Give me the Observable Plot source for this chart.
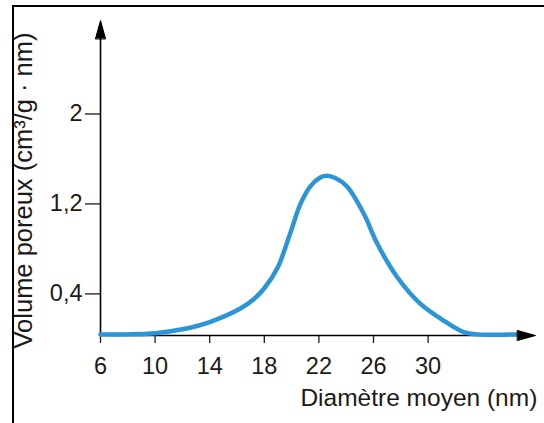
<!DOCTYPE html>
<html><head><meta charset="utf-8">
<script src="https://cdn.jsdelivr.net/npm/d3@7"></script>
<script src="https://cdn.jsdelivr.net/npm/@observablehq/plot@0.6"></script>
<style>
body{margin:0;background:#fff}
#wrap{position:relative;width:544px;height:423px;overflow:hidden}
#wrap svg{position:absolute;left:0;top:0}
#frame{position:absolute;left:12px;top:5px;right:-10px;bottom:-10px;border-top:2.5px solid #000;border-left:2.5px solid #000}
</style>
</head><body><div id="wrap"></div>
<script>
// Curve data (diamètre moyen en nm, volume poreux en cm³/g·nm)
const diameter = [6, 8, 10, 12, 14, 16.25, 17.2, 18, 19, 19.9, 20.65, 21.4, 22.1, 22.6, 23.2, 24.06, 25.3, 26.26, 27.73, 29.4, 31.1, 32.6, 33.6, 36.5];
const volume   = [0.04, 0.04, 0.05, 0.085, 0.15, 0.27, 0.35, 0.45, 0.64, 0.94, 1.2, 1.36, 1.435, 1.45, 1.43, 1.355, 1.11, 0.85, 0.55, 0.315, 0.165, 0.06, 0.04, 0.04];
const xTicks = [6, 10, 14, 18, 22, 26, 30];
const yTicks = [0.4, 1.2, 2];
const xLabel = "Diamètre moyen (nm)";
const yLabel = "Volume poreux (cm³/g · nm)";
const xMin = 6, xMax = 38, yBase = 0.03, yTop = 3;
const xArrowEnd = 37.87, yArrowEnd = 2.83;

const curve = diameter.map((d, i) => ({d, v: volume[i]}));
const arrowHead = {draw(ctx, l, r) { ctx.moveTo(-r, 0); ctx.lineTo(0, -l); ctx.lineTo(r, 0); ctx.closePath(); }};

const chart = Plot.plot({
  width: 544, height: 423,
  marginLeft: 100, marginRight: 544 - 100 - (xMax - xMin) * 13.65, marginTop: 1, marginBottom: 88,
  x: {domain: [xMin, xMax], label: null},
  y: {domain: [yBase, yTop], label: null},
  style: {fontFamily: "'Liberation Sans', Arial, sans-serif", fontSize: "23px", background: "transparent", color: "#1a1a1a"},
  marks: [
    Plot.axisX({ticks: xTicks, tickSize: 8, tickPadding: 14, fontSize: 23.5, label: null, strokeWidth: 1.3}),
    Plot.axisY({ticks: yTicks, tickSize: 15, tickPadding: 3, fontSize: 23.5, label: null, strokeWidth: 1.3,
      tickFormat: d => String(d).replace(".", ",")}),
    Plot.ruleY([yBase], {x1: xMin, x2: xArrowEnd - 1, stroke: "#000", strokeWidth: 1.6}),
    Plot.ruleX([xMin], {y1: yBase, y2: yArrowEnd - 0.1, stroke: "#000", strokeWidth: 1.6}),
    Plot.line(curve, {x: "d", y: "v", curve: "catmull-rom", stroke: "#2c95d7", strokeWidth: 4.5, strokeLinecap: "round"}),
    Plot.vector([{x: xArrowEnd, y: yBase, r: 90}, {x: xMin, y: yArrowEnd, r: 0}],
      {x: "x", y: "y", rotate: "r", length: 18, r: 5, anchor: "end", shape: arrowHead, fill: "#000", stroke: "#000", strokeWidth: 1}),
    Plot.text([xLabel], {x: xMax, y: yBase - 71 / 112.46, text: d => d, textAnchor: "end", lineAnchor: "bottom", fontSize: 24.5}),
    Plot.text([yLabel], {x: 6 + (31 - 100) / 13.65, y: yBase + (335 - 190) / 112.46, text: d => d, rotate: -90, textAnchor: "middle", lineAnchor: "bottom", fontSize: 25.5})
  ]
});
const wrap = document.getElementById("wrap");
wrap.appendChild(chart);
const frame = document.createElement("div");
frame.id = "frame";
wrap.appendChild(frame);
</script></body></html>
